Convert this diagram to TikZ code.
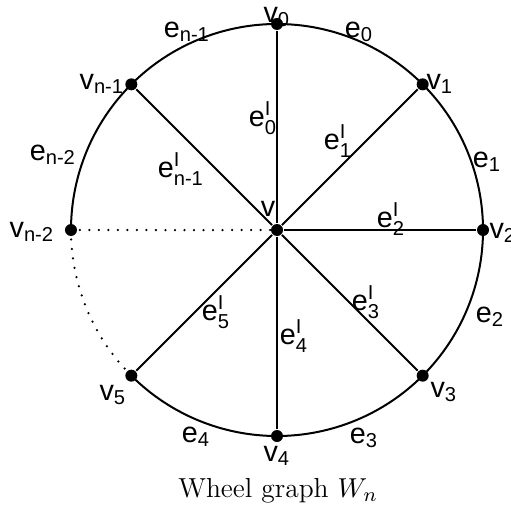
\documentclass[tikz,border=0pt]{standalone}
\usepackage{amsmath}
\usepackage{fontspec}
\setsansfont{Liberation Sans}
\newcommand{\vlab}[1]{$\text{v}_{\text{#1}}$}
\newcommand{\elab}[1]{$\text{e}_{\text{#1}}$}
\newcommand{\slab}[1]{$\text{e}^{\text{I}}_{\text{#1}}$}
\begin{document}
\begin{tikzpicture}[x=0.4pt, y=0.4pt, line width=0.8pt,
    dot/.style={circle, fill=black, inner sep=0pt, minimum size=4.8pt},
    lbl/.style={font=\sffamily\fontsize{11.5}{13}\selectfont, inner sep=1pt},
    dotline/.style={dash pattern=on 0pt off 3.8pt, line cap=round, line width=1pt}]
    \useasboundingbox (-277,-276) rectangle (234,230);

    % Hub and rim vertices
    \node[dot] (v) at (0,0) {};
    \node[dot] (v0) at (90:206) {};
    \node[dot] (v1) at (45:206) {};
    \node[dot] (v2) at (0:206) {};
    \node[dot] (v3) at (-45:206) {};
    \node[dot] (v4) at (-90:206) {};
    \node[dot] (v5) at (-135:206) {};
    \node[dot] (vn2) at (180:206) {};
    \node[dot] (vn1) at (135:206) {};

    % Rim edges
    \draw (vn2.center) arc[start angle=180, end angle=135, radius=206];
    \draw (vn1.center) arc[start angle=135, end angle=90, radius=206];
    \draw (v0.center) arc[start angle=90, end angle=45, radius=206];
    \draw (v1.center) arc[start angle=45, end angle=0, radius=206];
    \draw (v2.center) arc[start angle=0, end angle=-45, radius=206];
    \draw (v3.center) arc[start angle=-45, end angle=-90, radius=206];
    \draw (v4.center) arc[start angle=-90, end angle=-135, radius=206];
    \draw[dotline] (vn2.center) arc[start angle=180, end angle=225, radius=206]; % the missing part

    % Spokes
    \draw (v) -- (v0);
    \draw (v) -- (v1);
    \draw (v) -- (v2);
    \draw (v) -- (v3);
    \draw (v) -- (v4);
    \draw (v) -- (v5);
    \draw (v) -- (vn1);
    \draw[dotline] (v) -- (vn2);

    % Vertex labels
    \node[lbl] (lv) at (-9,21) {v};
    \node[lbl] (lv0) at (0,213) {\vlab{0}};
    \node[lbl] (lv1) at (163,146) {\vlab{1}};
    \node[lbl] (lv2) at (226,-3) {\vlab{2}};
    \node[lbl] (lv3) at (167,-162) {\vlab{3}};
    \node[lbl] (lv4) at (0,-226) {\vlab{4}};
    \node[lbl] (lv5) at (-164,-165) {\vlab{5}};
    \node[lbl] (lvn2) at (-245,-2) {\vlab{n-2}};
    \node[lbl] (lvn1) at (-175,146) {\vlab{n-1}};

    % Rim edge labels
    \node[lbl] (le0) at (82,198) {\elab{0}};
    \node[lbl] (le1) at (210,68) {\elab{1}};
    \node[lbl] (le2) at (213,-87) {\elab{2}};
    \node[lbl] (le3) at (87,-208) {\elab{3}};
    \node[lbl] (le4) at (-81,-207) {\elab{4}};
    \node[lbl] (len2) at (-224,75) {\elab{n-2}};
    \node[lbl] (len1) at (-90,198) {\elab{n-1}};

    % Spoke labels
    \node[lbl] (ls0) at (-14,112) {\slab{0}};
    \node[lbl] (ls1) at (61,89) {\slab{1}};
    \node[lbl] (ls2) at (114,11) {\slab{2}};
    \node[lbl] (ls3) at (89,-72) {\slab{3}};
    \node[lbl] (ls4) at (17,-106) {\slab{4}};
    \node[lbl] (ls5) at (-61,-82) {\slab{5}};
    \node[lbl] (lsn1) at (-96,61) {\slab{n-1}};

    \node[font=\fontsize{11}{13}\selectfont] (cap) at (1,-261) {Wheel graph $W_n$};
\end{tikzpicture}
\end{document}
